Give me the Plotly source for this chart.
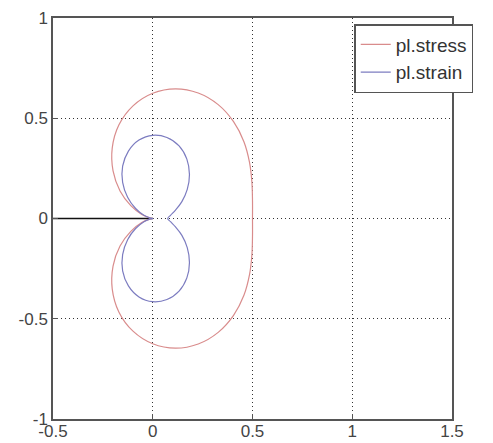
import plotly.graph_objects as go

# Plastic zone boundaries (closed loops through the crack tip)
stress_x = [0.000, -0.015, -0.055, -0.110, -0.164, -0.199, -0.203, -0.170, -0.099, 0.000,
            0.114, 0.228, 0.328, 0.405, 0.457, 0.485, 0.497, 0.500, 0.500,
            0.500, 0.497, 0.485, 0.457, 0.405, 0.328, 0.228, 0.114, 0.000,
            -0.099, -0.170, -0.203, -0.199, -0.164, -0.110, -0.055, -0.015, 0.000]
stress_y = [0.000, -0.003, -0.020, -0.064, -0.137, -0.237, -0.352, -0.466, -0.562, -0.625,
            -0.647, -0.626, -0.568, -0.483, -0.383, -0.280, -0.181, -0.088, 0.000,
            0.088, 0.181, 0.280, 0.383, 0.483, 0.568, 0.626, 0.647, 0.625,
            0.562, 0.466, 0.352, 0.237, 0.137, 0.064, 0.020, 0.003, 0.000]

strain_x = [0.000, -0.012, -0.044, -0.086, -0.126, -0.151, -0.151, -0.122, -0.069, 0.000,
            0.071, 0.132, 0.171, 0.184, 0.173, 0.146, 0.114, 0.089, 0.075,
            0.089, 0.114, 0.146, 0.173, 0.184, 0.171, 0.132, 0.071, 0.000,
            -0.069, -0.122, -0.151, -0.151, -0.126, -0.086, -0.044, -0.012, 0.000]
strain_y = [0.000, -0.002, -0.016, -0.050, -0.106, -0.180, -0.261, -0.336, -0.391, -0.415,
            -0.404, -0.362, -0.296, -0.219, -0.145, -0.084, -0.042, -0.016, 0.000,
            0.016, 0.042, 0.084, 0.145, 0.219, 0.296, 0.362, 0.404, 0.415,
            0.391, 0.336, 0.261, 0.180, 0.106, 0.050, 0.016, 0.002, 0.000]

crack_x = [-0.5, 0.0]
crack_y = [0.0, 0.0]

x_ticks = [-0.5, 0, 0.5, 1, 1.5]
x_labels = ["-0.5", "0", "0.5", "1", "1.5"]
y_ticks = [-1, -0.5, 0, 0.5, 1]
y_labels = ["-1", "-0.5", "0", "0.5", "1"]

series_names = ["pl.stress", "pl.strain"]

FONT = "Liberation Sans, Arial, sans-serif"

fig = go.Figure()
fig.add_trace(go.Scatter(x=crack_x, y=crack_y, mode="lines",
                         line=dict(color="#111111", width=1.5),
                         showlegend=False, hoverinfo="skip"))
fig.add_trace(go.Scatter(x=stress_x, y=stress_y, mode="lines", name=series_names[0],
                         line=dict(color="#d98c8c", width=1.2, shape="spline", smoothing=1)))
fig.add_trace(go.Scatter(x=strain_x, y=strain_y, mode="lines", name=series_names[1],
                         line=dict(color="#7c7cc0", width=1.2, shape="spline", smoothing=1)))

axis_common = dict(
    showgrid=True, gridcolor="#333333", griddash="1px,3px", gridwidth=1.2,
    showline=True, linecolor="#555555", linewidth=1.5, mirror=True,
    ticks="inside", ticklen=5, tickcolor="#555555",
    zeroline=False, automargin=False,
    tickfont=dict(family=FONT, size=17, color="#444444"),
)

fig.update_layout(
    width=485, height=435,
    margin=dict(l=45, r=41, t=10, b=24, autoexpand=False),
    paper_bgcolor="white", plot_bgcolor="white",
    template="none",
    xaxis=dict(range=[-0.5, 1.5], tickvals=x_ticks, ticktext=x_labels,
               ticklabelstandoff=-4, **axis_common),
    yaxis=dict(range=[-1, 1], tickvals=y_ticks, ticktext=y_labels, **axis_common),
    legend=dict(x=0.755, y=0.985, xanchor="left", yanchor="top",
                bgcolor="white", bordercolor="#555555", borderwidth=1.5,
                font=dict(family=FONT, size=19, color="#333333"),
                tracegroupgap=0, itemwidth=30),
    showlegend=True,
)

fig.write_html("out.html")
